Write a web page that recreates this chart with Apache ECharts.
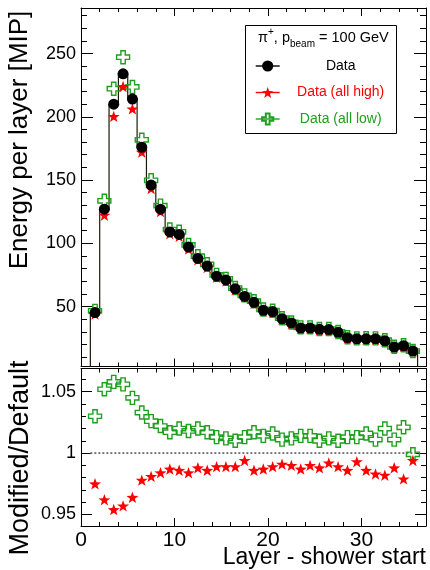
<!DOCTYPE html>
<html>
<head>
<meta charset="utf-8">
<script src="https://cdn.jsdelivr.net/npm/echarts@6/dist/echarts.min.js"></script>
<style>
  html, body { margin: 0; padding: 0; background: #fff; }
  #chart { width: 430px; height: 570px; }
</style>
</head>
<body>
<div id="chart"></div>
<script>
// layer centres (layer - shower start)
const layers = [1.5, 2.5, 3.5, 4.5, 5.5, 6.5, 7.5, 8.5, 9.5, 10.5, 11.5, 12.5, 13.5, 14.5, 15.5, 16.5, 17.5, 18.5,
  19.5, 20.5, 21.5, 22.5, 23.5, 24.5, 25.5, 26.5, 27.5, 28.5, 29.5, 30.5, 31.5, 32.5, 33.5, 34.5, 35.5];

// energy per layer [MIP]
const energyData = [45.2, 127, 210, 234, 214, 176, 146, 127, 109, 107, 97, 88, 82, 74, 71, 64, 58, 53.3,
  47, 46, 40.4, 37, 33, 33, 32, 31.8, 29.6, 25.4, 24.5, 24.5, 24.5, 22.9, 18, 19, 14.8];
const energyHigh = [44.1, 122.2, 200.3, 223.9, 206.3, 172.1, 143.2, 125.0, 107.6, 105.5, 95.4, 86.9, 80.9, 73.2, 70.2, 63.3, 57.7, 52.6,
  46.4, 45.5, 40.0, 36.6, 32.6, 32.7, 31.6, 31.5, 29.3, 25.0, 24.3, 24.2, 24.1, 22.5, 17.8, 18.6, 14.7];
const energyLow = [46.6, 133.6, 222.2, 247.1, 223.6, 181.8, 149.8, 129.8, 110.9, 109.1, 98.7, 89.8, 83.4, 75.0, 71.9, 64.6, 58.8, 54.2,
  47.7, 46.7, 40.8, 37.4, 33.5, 33.5, 32.3, 32.2, 29.9, 25.7, 24.8, 24.9, 24.8, 23.4, 18.2, 19.4, 14.8];

// modified / default
const ratioHigh = [0.975, 0.962, 0.954, 0.957, 0.964, 0.978, 0.981, 0.984, 0.987, 0.986, 0.984, 0.988, 0.986, 0.989, 0.989, 0.989, 0.994, 0.986,
  0.987, 0.989, 0.991, 0.990, 0.987, 0.990, 0.988, 0.992, 0.989, 0.986, 0.993, 0.986, 0.983, 0.982, 0.988, 0.979, 0.994];
const ratioLow = [1.030, 1.052, 1.058, 1.056, 1.045, 1.033, 1.026, 1.022, 1.017, 1.020, 1.018, 1.020, 1.017, 1.013, 1.012, 1.010, 1.013, 1.017,
  1.014, 1.016, 1.011, 1.012, 1.014, 1.014, 1.010, 1.012, 1.010, 1.013, 1.013, 1.016, 1.011, 1.020, 1.011, 1.021, 0.999];

const refLineX = [1, 36];
const refLineY = 1;

// axis ranges and ticks
const layerRange = [0, 36.9];
const energyRange = [2.6, 286];
const ratioRange = [0.9406, 1.0689];
const layerLabels = [0, 10, 20, 30];
const layerMinor = [2, 4, 6, 8, 12, 14, 16, 18, 22, 24, 26, 28, 32, 34, 36];
const energyLabels = [50, 100, 150, 200, 250];
const energyMinor = [10, 20, 30, 40, 60, 70, 80, 90, 110, 120, 130, 140, 160, 170, 180, 190, 210, 220, 230, 240, 260, 270, 280];
const ratioLabels = [0.95, 1, 1.05];
const ratioMinor = [0.96, 0.97, 0.98, 0.99, 1.01, 1.02, 1.03, 1.04, 1.06];

const FONT = "'Liberation Sans', Arial, Helvetica, sans-serif";
const GREEN = '#1f9f1f';
const RED = '#ff0000';

const STAR = 'path://M10,0 L12.35,6.76 L19.51,6.91 L13.8,11.24 L15.88,18.09 L10,14 L4.12,18.09 L6.2,11.24 L0.49,6.91 L7.65,6.76 Z';
const CROSS = 'path://M4,0 L8,0 L8,4 L12,4 L12,8 L8,8 L8,12 L4,12 L4,8 L0,8 L0,4 L4,4 Z';

// four axes for one side pair: major + minor ticks on each side, ticks pointing in
function frameAxes(kind, grid, range, labels, minor, majorLen, minorLen, labelStyle) {
  const sides = kind === 'x' ? ['bottom', 'top'] : ['left', 'right'];
  const out = [];
  sides.forEach((pos, s) => {
    [labels, minor].forEach((ticks, m) => {
      out.push({
        type: 'value',
        gridIndex: grid,
        position: pos,
        min: range[0],
        max: range[1],
        axisLine: { show: m === 0, onZero: false, lineStyle: { color: '#000', width: 1 } },
        axisTick: {
          show: true, inside: true, customValues: ticks,
          length: m === 0 ? majorLen : minorLen,
          lineStyle: { color: '#000', width: 1 },
        },
        axisLabel: (s === 0 && m === 0 && labelStyle)
          ? Object.assign({ customValues: labels }, labelStyle)
          : { show: false },
        splitLine: { show: false },
        axisPointer: { show: false },
      });
    });
  });
  return out;
}

const yLabelStyle = { show: true, color: '#000', fontSize: 18, fontFamily: FONT, margin: 5 };
const xLabelStyle = { show: true, color: '#000', fontSize: 21, fontFamily: FONT, margin: 4 };

const xAxes = [].concat(
  frameAxes('x', 0, layerRange, layerLabels, layerMinor, 8, 4, null),
  frameAxes('x', 1, layerRange, layerLabels, layerMinor, 8, 4, xLabelStyle)
);
const yAxes = [].concat(
  frameAxes('y', 0, energyRange, energyLabels, energyMinor, 12, 6, yLabelStyle),
  frameAxes('y', 1, ratioRange, ratioLabels, ratioMinor, 11, 5, yLabelStyle)
);

// histogram outline from the data points (bin edges at layer +- 0.5)
const histData = [[layers[0] - 0.5, energyRange[0]]];
layers.forEach((x, i) => histData.push([x - 0.5, energyData[i]]));
histData.push([layers[layers.length - 1] + 0.5, energyData[energyData.length - 1]]);
histData.push([layers[layers.length - 1] + 0.5, energyRange[0]]);

const pairs = (ys) => layers.map((x, i) => [x, ys[i]]);

const pointSeries = (name, grid, ys, symbol, size, itemStyle, z) => ({
  name,
  type: 'line',
  xAxisIndex: grid * 4,
  yAxisIndex: grid * 4,
  data: pairs(ys),
  symbol,
  symbolSize: size,
  symbolKeepAspect: true,
  showAllSymbol: true,
  lineStyle: { opacity: 0 },
  itemStyle,
  z,
});

const lowStyle = { color: 'rgba(255,255,255,0)', borderColor: GREEN, borderWidth: 1.4 };
const highStyle = { color: RED, borderWidth: 0 };
const dataStyle = { color: '#000', borderWidth: 0 };

const chart = echarts.init(document.getElementById('chart'), null, { renderer: 'canvas' });

chart.setOption({
  animation: false,
  textStyle: { fontFamily: FONT },
  grid: [
    { left: 81, right: 4, top: 8, height: 358.5 },
    { left: 81, right: 4, top: 368.5, height: 157.5 },
  ],
  xAxis: xAxes,
  yAxis: yAxes,
  legend: {
    orient: 'vertical',
    left: 255,
    top: 59,
    padding: 0,
    itemWidth: 24,
    itemHeight: 14,
    itemGap: 12.5,
    selectedMode: false,
    z: 10,
    data: [
      { name: 'Data', lineStyle: { color: '#000', width: 1.4, opacity: 1 } },
      { name: 'Data (all high)', lineStyle: { color: RED, width: 1.4, opacity: 1 } },
      { name: 'Data (all low)', lineStyle: { color: GREEN, width: 1.4, opacity: 1 } },
    ],
    formatter: (name) => {
      const key = name === 'Data' ? 'd' : (name === 'Data (all high)' ? 'h' : 'l');
      return '{' + key + '|' + name + '}';
    },
    textStyle: {
      rich: {
        d: { color: '#000', fontSize: 14, fontFamily: FONT, width: 112, align: 'center' },
        h: { color: RED, fontSize: 14, fontFamily: FONT, width: 112, align: 'center' },
        l: { color: GREEN, fontSize: 14, fontFamily: FONT, width: 112, align: 'center' },
      },
    },
  },
  graphic: [
    {
      type: 'rect', z: 5,
      shape: { x: 245.5, y: 25.5, width: 151, height: 108 },
      style: { fill: '#fff', stroke: '#000', lineWidth: 1 },
    },
    {
      type: 'text', z: 11, x: 258, y: 38,
      style: {
        text: '{m|π}{s|+}{m|, p}{b|beam}{m| = 100 GeV}',
        verticalAlign: 'middle', textVerticalAlign: 'middle',
        rich: {
          m: { fontSize: 14.5, fontFamily: FONT, fill: '#000', lineHeight: 22, verticalAlign: 'middle' },
          s: { fontSize: 10, fontFamily: FONT, fill: '#000', lineHeight: 14, verticalAlign: 'top' },
          b: { fontSize: 10, fontFamily: FONT, fill: '#000', lineHeight: 12, verticalAlign: 'bottom' },
        },
      },
    },
    {
      type: 'text', x: 20, y: 140, rotation: Math.PI / 2,
      style: {
        text: 'Energy per layer [MIP]', fontSize: 26, fontFamily: FONT, fill: '#000',
        align: 'center', verticalAlign: 'middle', textAlign: 'center', textVerticalAlign: 'middle',
      },
    },
    {
      type: 'text', x: 21, y: 458, rotation: Math.PI / 2,
      style: {
        text: 'Modified/Default', fontSize: 27, fontFamily: FONT, fill: '#000',
        align: 'center', verticalAlign: 'middle', textAlign: 'center', textVerticalAlign: 'middle',
      },
    },
    {
      type: 'text', x: 426, y: 558,
      style: {
        text: 'Layer - shower start', fontSize: 23, fontFamily: FONT, fill: '#000',
        align: 'right', verticalAlign: 'middle', textAlign: 'right', textVerticalAlign: 'middle',
      },
    },
  ],
  series: [
    {
      name: 'hist',
      type: 'line',
      xAxisIndex: 0,
      yAxisIndex: 0,
      data: histData,
      step: 'end',
      symbol: 'none',
      lineStyle: { color: '#1a1a08', width: 1.2 },
      z: 2,
    },
    pointSeries('Data (all low)', 0, energyLow, CROSS, 13, lowStyle, 3),
    pointSeries('Data (all high)', 0, energyHigh, STAR, 12, highStyle, 4),
    pointSeries('Data', 0, energyData, 'circle', 11, dataStyle, 5),
    {
      name: 'ref',
      type: 'line',
      xAxisIndex: 4,
      yAxisIndex: 4,
      data: refLineX.map((x) => [x, refLineY]),
      symbol: 'none',
      lineStyle: { color: '#777', width: 2, type: [2, 2] },
      z: 2,
    },
    pointSeries('Data (all low)', 1, ratioLow, CROSS, 13, lowStyle, 3),
    pointSeries('Data (all high)', 1, ratioHigh, STAR, 12, highStyle, 4),
  ],
});
</script>
</body>
</html>
